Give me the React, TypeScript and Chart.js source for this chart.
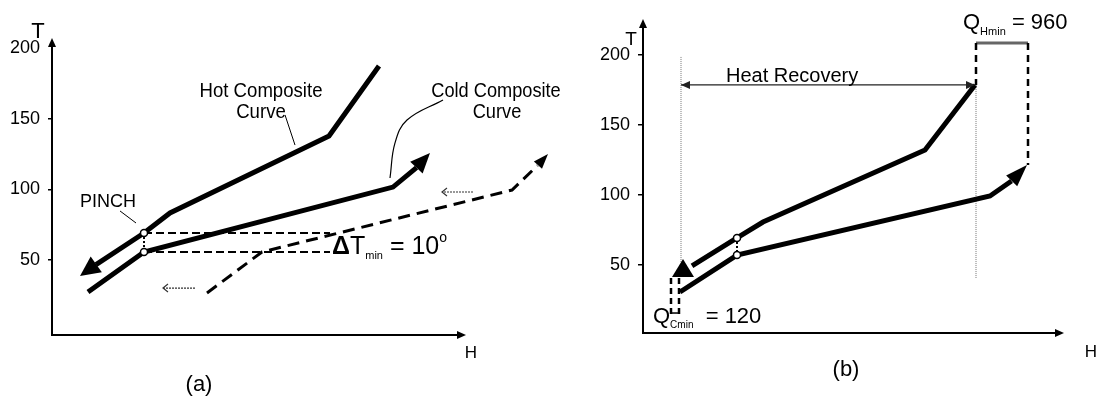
import React, { useEffect, useRef } from 'react';
import { Chart, registerables } from 'chart.js';

Chart.register(...registerables);

const FONT = '"Liberation Sans", Arimo, Arial, Helvetica, sans-serif';

// ---------------- Panel (a) data (H arbitrary units, T in degrees) ----------------
const A_T_TICKS = [50, 100, 150, 200];
const A_T_MIN = -3;
const A_T_MAX = 207;
const A_H_MAX = 508;
const A_H_AXIS_END = 414;

const A_HOT_H = [327, 277, 118, 92, 44, 28];
const A_HOT_T = [187.2, 137.7, 83.3, 69.1, 46.8, 38.7];
const A_COLD_H = [36, 92, 341, 364.5, 378];
const A_COLD_T = [27.4, 55.7, 101.6, 115.4, 125.7];
const A_SHIFT_H = [155, 210, 460, 485.5, 496];
const A_SHIFT_T = [26.7, 55.7, 99.5, 116.8, 125];
const A_PINCH_H = [92, 92];
const A_PINCH_T = [69.1, 55.7];
const A_DT_H = [92, 278];
const A_DT_HOT_T = [69.1, 69.1];
const A_DT_COLD_T = [55.7, 55.7];
const A_SHIFT_LOW_H = [143, 111];
const A_SHIFT_LOW_T = [30.2, 30.2];
const A_SHIFT_HIGH_H = [421, 390];
const A_SHIFT_HIGH_T = [98.1, 98.1];
const A_HOT_LEADER_H = [233, 243];
const A_HOT_LEADER_T = [152.6, 131.3];
const A_PINCH_LEADER_H = [68, 84];
const A_PINCH_LEADER_T = [84.7, 76.2];
const A_COLD_LEADER_H = [391, 355, 343, 338];
const A_COLD_LEADER_T = [163.2, 149.0, 132.8, 108.0];

// ---------------- Panel (b) data ----------------
const B_T_TICKS = [50, 100, 150, 200];
const B_T_MIN = 1.43;
const B_T_MAX = 225.7;
const B_H_MAX = 421;
const B_H_AXIS_END = 421;

const B_HOT_H = [332, 282, 120, 94, 49, 40];
const B_HOT_T = [178.6, 132.1, 80.7, 69.3, 49.3, 54.3];
const B_COLD_H = [37, 94, 347, 368.5, 384];
const B_COLD_T = [30.7, 57.1, 99.3, 110.0, 121.4];
const B_PINCH_H = [94, 94];
const B_PINCH_T = [69.3, 57.1];
const B_RECOVERY_H = [38, 332];
const B_RECOVERY_T = [178.6, 178.6];
const B_GUIDE1_H = [38, 38];
const B_GUIDE1_T = [198.6, 52.1];
const B_GUIDE2_H = [333, 333];
const B_GUIDE2_T = [178.6, 40.7];
const B_QH_LEFT_H = [333, 333];
const B_QH_LEFT_T = [208.6, 178.6];
const B_QH_RIGHT_H = [385, 385];
const B_QH_RIGHT_T = [208.6, 121.4];
const B_QH_BAR_H = [333, 385];
const B_QH_BAR_T = [208.6, 208.6];
const B_QC_LEFT_H = [28, 28];
const B_QC_RIGHT_H = [36, 36];
const B_QC_T = [40.7, 13.6];
const B_QC_BAR_H = [28, 36];
const B_QC_BAR_T = [15.7, 15.7];

type Part = { s: string; size: number; bold?: boolean; dy?: number };
type Label = { h: number; t: number; align: 'left' | 'center'; sx?: number; parts: Part[] };

const A_LABELS: Label[] = [
  { h: -14, t: 207.0, align: 'center', parts: [{ s: 'T', size: 22 }] },
  { h: 209, t: 165.3, align: 'center', sx: 0.93, parts: [{ s: 'Hot Composite', size: 20 }] },
  { h: 209, t: 150.4, align: 'center', sx: 0.93, parts: [{ s: 'Curve', size: 20 }] },
  { h: 444, t: 165.3, align: 'center', sx: 0.91, parts: [{ s: 'Cold Composite', size: 20 }] },
  { h: 445, t: 150.4, align: 'center', sx: 0.91, parts: [{ s: 'Curve', size: 20 }] },
  { h: 56, t: 87.5, align: 'center', parts: [{ s: 'PINCH', size: 18 }] },
  {
    h: 280, t: 54.3, align: 'left', parts: [
      { s: 'Δ', size: 25, bold: true },
      { s: 'T', size: 25 },
      { s: 'min', size: 11, dy: 5 },
      { s: ' = 10', size: 25 },
      { s: 'o', size: 14, dy: -12 },
    ],
  },
  { h: 419, t: -19.3, align: 'center', parts: [{ s: 'H', size: 17 }] },
  { h: 147, t: -42.6, align: 'center', parts: [{ s: '(a)', size: 22 }] },
];

const B_LABELS: Label[] = [
  { h: -12, t: 207.1, align: 'center', parts: [{ s: 'T', size: 19 }] },
  { h: 83, t: 180.7, align: 'left', parts: [{ s: 'Heat Recovery', size: 20 }] },
  {
    h: 320, t: 218.6, align: 'left', parts: [
      { s: 'Q', size: 22 },
      { s: 'Hmin', size: 11, dy: 6 },
      { s: ' = 960', size: 22 },
    ],
  },
  {
    h: 10, t: 8.6, align: 'left', parts: [
      { s: 'Q', size: 22 },
      { s: 'Cmin', size: 10, dy: 5 },
      { s: '  = 120', size: 22 },
    ],
  },
  { h: 448, t: -15.7, align: 'center', parts: [{ s: 'H', size: 17 }] },
  { h: 203, t: -29.3, align: 'center', parts: [{ s: '(b)', size: 22 }] },
];

const pts = (hs: number[], ts: number[]) => hs.map((h, i) => ({ x: h, y: ts[i] }));

function line(hs: number[], ts: number[], opts: any = {}) {
  const data = pts(hs, ts);
  const color = opts.borderColor || '#000';
  const ds: any = {
    data,
    borderColor: color,
    borderWidth: 1,
    pointRadius: 0,
    tension: 0,
    fill: false,
    borderCapStyle: 'butt',
    borderJoinStyle: 'miter',
    ...opts,
  };
  if (opts.arrow && opts.arrow.hideLast) {
    const n = data.length;
    ds.segment = {
      borderColor: (c: any) => (c.p1DataIndex === n - 1 ? 'rgba(0,0,0,0)' : color),
    };
  }
  return ds;
}

function pinchPoints(hs: number[], ts: number[]) {
  return {
    data: pts(hs, ts),
    showLine: false,
    pointRadius: 3.5,
    pointBackgroundColor: '#fff',
    pointBorderColor: '#000',
    pointBorderWidth: 1.5,
    order: -1,
  };
}

function drawHead(ctx: CanvasRenderingContext2D, tx: number, ty: number, dx: number, dy: number,
  len: number, half: number, open: boolean, color: string) {
  const L = Math.hypot(dx, dy) || 1;
  const ux = dx / L, uy = dy / L;
  const bx = tx - ux * len, by = ty - uy * len;
  const px = -uy, py = ux;
  ctx.save();
  ctx.beginPath();
  if (open) {
    ctx.strokeStyle = color;
    ctx.lineWidth = 1.2;
    ctx.moveTo(bx + px * half, by + py * half);
    ctx.lineTo(tx, ty);
    ctx.lineTo(bx - px * half, by - py * half);
    ctx.stroke();
  } else {
    ctx.fillStyle = color;
    ctx.moveTo(tx, ty);
    ctx.lineTo(bx + px * half, by + py * half);
    ctx.lineTo(bx - px * half, by - py * half);
    ctx.closePath();
    ctx.fill();
  }
  ctx.restore();
}

function makeOverlay(labels: Label[], axisHEnd: number) {
  return {
    id: 'overlay',
    afterDatasetsDraw(chart: any) {
      const ctx = chart.ctx;
      chart.data.datasets.forEach((ds: any, i: number) => {
        const a = ds.arrow;
        if (!a) return;
        const p = chart.getDatasetMeta(i).data;
        const n = p.length;
        const head = (tip: any, prev: any) => {
          let dx: number, dy: number;
          if (a.angle !== undefined) {
            const r = (a.angle * Math.PI) / 180;
            dx = Math.cos(r);
            dy = Math.sin(r);
          } else {
            dx = tip.x - prev.x;
            dy = tip.y - prev.y;
          }
          drawHead(ctx, tip.x, tip.y, dx, dy, a.len, a.half, !!a.open, ds.borderColor || '#000');
        };
        head(p[n - 1], p[n - 2]);
        if (a.both) head(p[0], p[1]);
      });
    },
    afterDraw(chart: any) {
      const ctx: CanvasRenderingContext2D = chart.ctx;
      const { x, y } = chart.scales;
      const area = chart.chartArea;
      const ox = x.getPixelForValue(0);
      const oy = area.bottom;
      const xEnd = x.getPixelForValue(axisHEnd);
      ctx.save();
      ctx.strokeStyle = '#000';
      ctx.lineWidth = 2;
      ctx.beginPath();
      ctx.moveTo(ox, oy + 1);
      ctx.lineTo(ox, area.top + 6);
      ctx.moveTo(ox - 1, oy);
      ctx.lineTo(xEnd - 6, oy);
      ctx.stroke();
      ctx.restore();
      drawHead(ctx, ox, area.top, 0, -1, 9, 4, false, '#000');
      drawHead(ctx, xEnd, oy, 1, 0, 9, 4, false, '#000');

      labels.forEach((L) => {
        const px = x.getPixelForValue(L.h);
        const py = y.getPixelForValue(L.t);
        const sx = L.sx ?? 1;
        ctx.save();
        ctx.fillStyle = '#000';
        ctx.textBaseline = 'alphabetic';
        ctx.textAlign = 'left';
        const fontOf = (p: Part) => `${p.bold ? 'bold ' : ''}${p.size}px ${FONT}`;
        let w = 0;
        L.parts.forEach((p) => {
          ctx.font = fontOf(p);
          w += ctx.measureText(p.s).width;
        });
        ctx.translate(px, py);
        ctx.scale(sx, 1);
        let cx = L.align === 'center' ? -w / 2 : 0;
        L.parts.forEach((p) => {
          ctx.font = fontOf(p);
          ctx.fillText(p.s, cx, p.dy || 0);
          cx += ctx.measureText(p.s).width;
        });
        ctx.restore();
      });
    },
  };
}

function yScale(min: number, max: number, ticks: number[], width: number, tickLen: number, hideTop: boolean) {
  return {
    type: 'linear',
    position: 'left',
    min,
    max,
    afterBuildTicks: (s: any) => {
      s.ticks = ticks.map((v) => ({ value: v }));
    },
    afterFit: (s: any) => {
      s.width = width;
    },
    border: { display: false },
    grid: {
      drawOnChartArea: false,
      drawTicks: true,
      tickLength: tickLen,
      lineWidth: 1.5,
      color: (c: any) => (hideTop && c.tick && c.tick.value === max - (max % 50) && c.tick.value === 200 ? 'rgba(0,0,0,0)' : '#000'),
    },
    ticks: {
      color: '#000',
      padding: 8,
      autoSkip: false,
      font: { family: FONT, size: 18 },
      callback: (v: any) => String(v),
    },
  };
}

function baseOptions(padding: any, hMax: number, y: any) {
  return {
    responsive: false,
    animation: false,
    events: [],
    devicePixelRatio: 1,
    layout: { padding },
    elements: { point: { radius: 0 } },
    plugins: { legend: { display: false }, tooltip: { enabled: false } },
    scales: {
      x: { type: 'linear', min: 0, max: hMax, display: false },
      y,
    },
  };
}

function configA(): any {
  const datasets = [
    line(A_HOT_H, A_HOT_T, { borderWidth: 5, arrow: { len: 20, half: 9.6, hideLast: true } }),
    line(A_COLD_H, A_COLD_T, { borderWidth: 5, arrow: { len: 20, half: 8.5, hideLast: true } }),
    line(A_SHIFT_H, A_SHIFT_T, { borderWidth: 3, borderDash: [12, 7], arrow: { len: 15, half: 5.5, hideLast: true } }),
    line(A_DT_H, A_DT_HOT_T, { borderWidth: 2, borderDash: [8, 4] }),
    line(A_DT_H, A_DT_COLD_T, { borderWidth: 2, borderDash: [8, 4] }),
    line(A_PINCH_H, A_PINCH_T, { borderWidth: 2, borderDash: [2, 2] }),
    pinchPoints(A_PINCH_H, A_PINCH_T),
    line(A_SHIFT_LOW_H, A_SHIFT_LOW_T, { borderWidth: 1.2, borderColor: '#333', borderDash: [2, 1], arrow: { len: 5, half: 4, open: true } }),
    line(A_SHIFT_HIGH_H, A_SHIFT_HIGH_T, { borderWidth: 1.2, borderColor: '#333', borderDash: [2, 1], arrow: { len: 5, half: 4, open: true } }),
    line(A_HOT_LEADER_H, A_HOT_LEADER_T, { borderWidth: 1 }),
    line(A_PINCH_LEADER_H, A_PINCH_LEADER_T, { borderWidth: 1 }),
    line(A_COLD_LEADER_H, A_COLD_LEADER_T, { borderWidth: 1.2, tension: 0.4 }),
  ];
  return {
    type: 'line',
    data: { datasets },
    options: baseOptions({ left: 0, top: 38, right: 40, bottom: 66 }, A_H_MAX,
      yScale(A_T_MIN, A_T_MAX, A_T_TICKS, 52, 4, true)),
    plugins: [makeOverlay(A_LABELS, A_H_AXIS_END)],
  };
}

function configB(): any {
  const datasets = [
    line(B_HOT_H, B_HOT_T, { borderWidth: 5, arrow: { len: 18, half: 11, angle: -90, hideLast: true } }),
    line(B_COLD_H, B_COLD_T, { borderWidth: 5, arrow: { len: 22, half: 7.7, hideLast: true } }),
    line(B_PINCH_H, B_PINCH_T, { borderWidth: 2, borderDash: [2, 2] }),
    pinchPoints(B_PINCH_H, B_PINCH_T),
    line(B_RECOVERY_H, B_RECOVERY_T, { borderWidth: 1.2, borderColor: '#222', arrow: { len: 9, half: 4, both: true } }),
    line(B_GUIDE1_H, B_GUIDE1_T, { borderWidth: 1, borderColor: '#777', borderDash: [1, 1] }),
    line(B_GUIDE2_H, B_GUIDE2_T, { borderWidth: 1, borderColor: '#777', borderDash: [1, 1] }),
    line(B_QH_LEFT_H, B_QH_LEFT_T, { borderWidth: 2.5, borderDash: [7, 5] }),
    line(B_QH_RIGHT_H, B_QH_RIGHT_T, { borderWidth: 2.5, borderDash: [7, 5] }),
    line(B_QH_BAR_H, B_QH_BAR_T, { borderWidth: 3, borderColor: '#666' }),
    line(B_QC_LEFT_H, B_QC_T, { borderWidth: 2.5, borderDash: [6, 4] }),
    line(B_QC_RIGHT_H, B_QC_T, { borderWidth: 2.5, borderDash: [6, 4] }),
    line(B_QC_BAR_H, B_QC_BAR_T, { borderWidth: 1.5 }),
  ];
  return {
    type: 'line',
    data: { datasets },
    options: baseOptions({ left: 0, top: 19, right: 38, bottom: 68 }, B_H_MAX,
      yScale(B_T_MIN, B_T_MAX, B_T_TICKS, 92, 5, false)),
    plugins: [makeOverlay(B_LABELS, B_H_AXIS_END)],
  };
}

function Panel({ make, left, width }: { make: () => any; left: number; width: number }) {
  const ref = useRef<HTMLCanvasElement>(null);
  useEffect(() => {
    const chart = new Chart(ref.current as HTMLCanvasElement, make());
    return () => chart.destroy();
  }, []);
  return (
    <canvas
      ref={ref}
      width={width}
      height={401}
      style={{ position: 'absolute', left, top: 0, width, height: 401 }}
    />
  );
}

export default function App() {
  return (
    <div style={{ position: 'fixed', left: 0, top: 0, width: 1102, height: 401, background: '#fff', overflow: 'hidden' }}>
      <Panel make={configA} left={0} width={600} />
      <Panel make={configB} left={551} width={551} />
    </div>
  );
}
